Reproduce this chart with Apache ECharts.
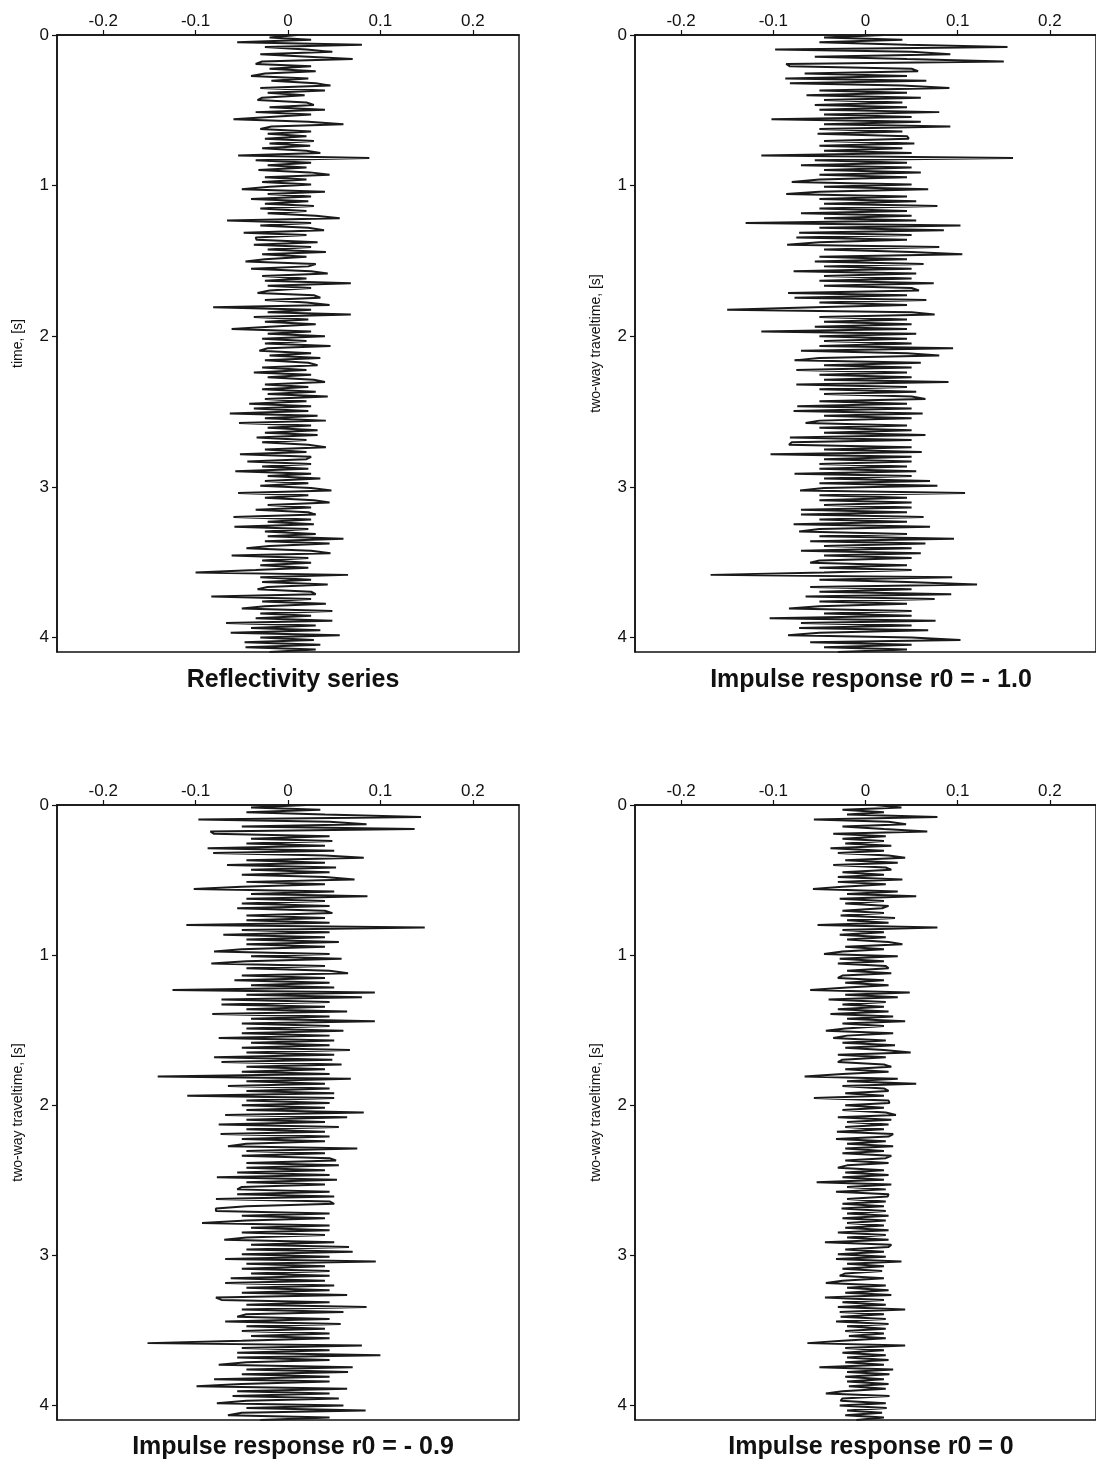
<!DOCTYPE html>
<html>
<head>
<meta charset="utf-8">
<script src="https://cdn.jsdelivr.net/npm/echarts@6/dist/echarts.min.js"></script>
<style>
  html, body { margin: 0; padding: 0; background: #fff; }
  #chart { width: 1096px; height: 1464px; }
</style>
</head>
<body>
<div id="chart"></div>
<script>
// sample spacing of the traces, seconds (read at 16 ms steps, 0 .. 4.096 s)
const dt = 0.016

const xTicks = [-0.2, -0.1, 0, 0.1, 0.2]
const yTicks = [0, 1, 2, 3, 4]

const titles = [
  'Reflectivity series',
  'Impulse response r0 = - 1.0',
  'Impulse response r0 = - 0.9',
  'Impulse response r0 = 0'
]
const yNames = ['time, [s]', 'two-way traveltime, [s]', 'two-way traveltime, [s]', 'two-way traveltime, [s]']

const reflectivity = [
  0.01, -0.02, 0.025, -0.055, 0.08, -0.025, 0.02, 0.048, -0.03, 0.022, 0.07, -0.028, -0.035, 0.025, -0.02, 0.03,
  -0.025, -0.04, 0.022, -0.018, 0.03, 0.046, -0.03, 0.04, -0.022, 0.018, -0.028, -0.033, 0.02, 0.028, -0.02, 0.04,
  -0.035, 0.025, -0.02, -0.059, 0.022, 0.06, -0.018, -0.03, 0.025, -0.022, 0.02, -0.025, 0.028, -0.02, 0.024, -0.028,
  0.02, 0.035, -0.054, 0.088, -0.035, 0.025, -0.022, 0.02, -0.032, 0.024, 0.045, -0.025, 0.02, -0.028, 0.025, -0.02,
  -0.05, 0.04, -0.022, 0.025, -0.04, 0.022, -0.025, 0.028, -0.03, 0.02, -0.022, 0.03, 0.056, -0.066, 0.025, -0.03,
  0.022, 0.039, -0.048, 0.02, -0.035, -0.034, 0.032, -0.037, 0.025, -0.022, 0.041, -0.028, 0.02, -0.025, -0.046, 0.03,
  0.022, -0.04, 0.025, 0.043, -0.028, 0.02, -0.025, 0.068, -0.022, 0.025, -0.02, -0.033, 0.028, 0.035, -0.025, 0.02,
  0.045, -0.081, 0.025, -0.022, 0.068, -0.037, 0.022, -0.025, 0.03, -0.02, -0.061, 0.025, -0.022, 0.04, -0.028, 0.02,
  -0.025, 0.046, -0.022, -0.031, 0.025, -0.02, 0.035, -0.025, 0.022, 0.032, -0.028, 0.02, -0.037, 0.025, -0.022, 0.028,
  0.04, -0.025, 0.022, -0.028, 0.03, -0.022, 0.043, -0.025, 0.02, -0.042, 0.025, -0.037, 0.022, -0.063, 0.032, -0.025,
  0.041, -0.053, 0.025, -0.022, 0.032, -0.025, 0.032, -0.034, 0.02, -0.028, 0.022, 0.041, -0.025, 0.02, -0.052, 0.025,
  0.02, -0.044, 0.025, -0.028, 0.022, -0.057, 0.025, -0.022, 0.035, -0.025, 0.022, -0.03, 0.025, 0.047, -0.054, 0.022,
  -0.025, 0.028, 0.045, -0.022, 0.025, -0.035, 0.022, 0.03, -0.059, 0.025, -0.022, 0.028, -0.058, 0.022, -0.025, 0.03,
  -0.022, 0.06, -0.025, 0.045, -0.02, -0.045, 0.025, 0.046, -0.061, 0.022, -0.028, 0.025, -0.03, 0.022, -0.035, -0.1,
  0.065, -0.03, 0.025, -0.028, 0.043, -0.022, -0.033, 0.025, 0.03, -0.083, 0.025, -0.028, 0.041, -0.025, -0.05, 0.048,
  -0.03, 0.025, -0.035, 0.048, -0.067, 0.03, -0.04, 0.035, -0.062, 0.056, -0.03, 0.028, -0.047, 0.035, -0.046, 0.03,
  -0.02
]

const responseR10 = [
  0.02, -0.045, 0.04, -0.05, 0.045, 0.154, -0.098, 0.05, 0.092, -0.055, 0.045, 0.15, -0.086, -0.082, 0.05, 0.057,
  -0.066, 0.045, -0.087, 0.066, -0.082, 0.04, 0.091, -0.05, 0.045, -0.064, 0.06, -0.045, 0.04, -0.055, 0.045, -0.05,
  0.08, -0.045, 0.05, -0.102, 0.06, -0.045, 0.092, -0.05, 0.04, -0.052, 0.045, 0.047, -0.045, 0.053, -0.05, 0.04,
  -0.045, 0.05, -0.113, 0.16, -0.055, 0.045, -0.07, 0.05, -0.045, 0.06, -0.05, 0.045, -0.05, -0.08, 0.05, -0.045,
  0.068, -0.05, -0.086, 0.045, -0.05, 0.055, -0.045, 0.078, -0.05, 0.045, -0.07, 0.05, -0.045, 0.055, -0.13, 0.103,
  -0.05, 0.085, -0.072, 0.05, -0.075, 0.045, -0.05, -0.085, 0.08, -0.045, 0.05, 0.105, -0.05, 0.045, -0.055, 0.063,
  -0.045, 0.05, -0.078, 0.055, -0.045, 0.05, -0.05, 0.074, -0.045, 0.05, 0.058, -0.084, 0.045, -0.077, 0.066, -0.05,
  0.045, -0.055, -0.15, 0.05, 0.075, -0.05, 0.045, -0.045, 0.05, -0.055, 0.045, -0.113, 0.055, -0.05, 0.045, -0.045,
  0.05, -0.05, 0.095, -0.07, 0.045, 0.08, -0.05, -0.077, 0.06, -0.045, 0.05, -0.075, 0.045, -0.05, 0.05, -0.045,
  0.09, -0.075, 0.045, -0.05, 0.055, -0.045, 0.05, 0.065, -0.05, 0.045, -0.074, 0.05, -0.078, 0.062, -0.045, 0.05,
  -0.05, -0.065, 0.045, -0.05, 0.05, -0.045, 0.065, -0.082, 0.05, -0.08, -0.083, 0.05, -0.045, 0.061, -0.103, 0.05,
  -0.045, 0.05, -0.05, 0.045, -0.05, 0.055, -0.077, 0.05, -0.045, 0.07, -0.05, 0.078, -0.045, -0.071, 0.108, -0.05,
  0.045, -0.05, 0.05, -0.045, 0.05, -0.07, 0.045, -0.07, 0.063, -0.05, 0.045, -0.078, 0.07, -0.05, -0.072, 0.045,
  -0.05, 0.096, -0.06, 0.065, -0.045, 0.05, -0.07, 0.06, -0.045, 0.05, -0.05, -0.06, 0.045, -0.05, 0.05, -0.045,
  -0.168, 0.094, -0.05, 0.045, 0.121, -0.06, 0.05, -0.05, 0.093, -0.065, 0.075, -0.05, 0.045, -0.05, -0.083, 0.05,
  -0.045, 0.05, -0.104, 0.076, -0.07, 0.05, -0.072, 0.068, -0.05, -0.084, 0.05, 0.103, -0.06, 0.05, -0.045, 0.045,
  -0.03
]

const responseR09 = [
  0.02, -0.04, 0.035, -0.045, 0.04, 0.144, -0.097, 0.045, 0.085, -0.05, 0.137, -0.084, -0.08, 0.045, -0.04, 0.048,
  -0.045, 0.04, -0.087, 0.05, -0.081, 0.04, 0.082, -0.045, 0.04, -0.066, 0.052, -0.04, 0.045, -0.05, 0.04, 0.072,
  -0.045, 0.04, -0.05, -0.102, 0.05, -0.04, 0.086, -0.045, 0.04, -0.05, 0.045, -0.055, 0.04, 0.048, -0.045, 0.04,
  -0.045, 0.045, -0.11, 0.148, -0.05, 0.045, -0.07, 0.04, -0.045, 0.055, -0.045, 0.04, -0.05, -0.08, 0.045, -0.04,
  0.058, -0.045, -0.083, 0.04, -0.045, 0.045, 0.065, -0.05, 0.04, -0.058, 0.045, -0.04, 0.05, -0.125, 0.094, -0.045,
  0.08, -0.072, 0.045, -0.072, 0.04, -0.045, 0.064, -0.082, 0.045, -0.04, 0.094, -0.05, 0.045, -0.045, 0.06, -0.05,
  0.045, -0.075, 0.05, -0.04, 0.045, -0.05, 0.067, -0.045, 0.05, -0.08, 0.048, -0.072, 0.058, -0.045, 0.04, -0.05,
  0.045, -0.141, 0.068, -0.045, 0.04, -0.065, 0.045, -0.045, 0.05, -0.109, 0.05, -0.045, 0.045, -0.05, 0.04, -0.045,
  0.082, -0.068, 0.064, -0.045, 0.04, -0.075, 0.055, -0.045, 0.04, -0.073, 0.045, -0.05, 0.04, -0.045, -0.065, 0.075,
  -0.045, 0.04, -0.05, 0.045, 0.052, -0.045, 0.055, -0.045, 0.04, -0.055, 0.045, -0.077, 0.053, -0.045, 0.04, -0.05,
  -0.055, 0.045, -0.055, 0.05, -0.078, 0.045, 0.05, -0.045, -0.078, -0.078, 0.045, -0.05, 0.04, -0.045, -0.093, 0.045,
  -0.04, 0.045, -0.05, 0.04, -0.045, -0.069, 0.05, -0.04, 0.066, -0.045, 0.07, -0.05, 0.045, -0.068, 0.095, -0.045,
  0.04, -0.05, 0.045, -0.04, 0.045, -0.062, 0.04, -0.068, 0.05, -0.045, 0.045, -0.05, 0.064, -0.078, -0.072, 0.045,
  -0.045, 0.085, -0.05, 0.06, -0.045, -0.055, 0.045, -0.068, 0.057, -0.045, 0.04, -0.05, 0.045, -0.04, 0.045, -0.05,
  -0.152, 0.08, -0.05, 0.045, -0.055, 0.1, -0.055, 0.045, -0.045, -0.075, 0.07, -0.045, 0.065, -0.05, 0.045, -0.08,
  0.045, -0.05, -0.099, 0.064, -0.055, 0.045, -0.06, 0.055, -0.045, -0.077, 0.06, -0.045, 0.084, -0.05, -0.065, 0.045,
  -0.03
]

const responseR00 = [
  0.01, 0.039, -0.025, 0.02, -0.02, 0.078, -0.056, 0.025, 0.044, -0.025, 0.02, 0.067, -0.035, 0.022, -0.025, 0.02,
  -0.022, 0.028, -0.038, 0.02, -0.03, 0.025, 0.043, -0.022, 0.035, -0.035, 0.022, 0.028, -0.025, 0.02, -0.03, 0.04,
  -0.03, 0.022, -0.025, -0.057, 0.035, -0.02, 0.055, -0.028, 0.02, -0.022, 0.025, 0.018, -0.025, 0.02, -0.027, 0.032,
  -0.02, 0.025, -0.052, 0.078, -0.025, 0.02, -0.028, 0.022, -0.02, 0.025, 0.04, -0.022, 0.02, -0.025, -0.045, 0.035,
  -0.028, 0.02, -0.03, 0.022, 0.025, -0.02, 0.028, -0.025, -0.03, 0.02, -0.022, 0.025, -0.02, -0.06, 0.048, -0.022,
  0.035, -0.04, 0.022, -0.025, 0.02, -0.03, 0.025, -0.038, 0.03, -0.02, 0.043, -0.025, 0.02, -0.022, -0.043, 0.03,
  -0.02, -0.035, 0.022, -0.025, 0.032, -0.022, 0.02, 0.049, -0.03, 0.022, -0.025, -0.03, 0.02, 0.028, -0.022, 0.025,
  -0.025, -0.066, 0.035, -0.02, 0.055, -0.025, 0.02, 0.025, -0.022, 0.02, -0.056, 0.025, 0.026, -0.022, 0.02, -0.025,
  0.022, 0.033, -0.03, 0.028, -0.02, 0.025, -0.022, 0.02, -0.031, 0.03, 0.025, -0.032, 0.022, -0.02, 0.03, -0.022,
  0.02, -0.025, 0.028, 0.022, -0.022, 0.025, -0.02, -0.03, 0.02, -0.022, 0.025, -0.025, 0.02, -0.053, 0.028, -0.02,
  0.022, -0.032, 0.025, 0.024, -0.02, 0.022, -0.025, 0.02, -0.026, 0.022, -0.02, 0.025, -0.025, 0.022, -0.02, 0.02,
  -0.022, 0.025, -0.03, 0.022, -0.02, 0.025, -0.044, 0.028, 0.025, -0.022, 0.02, -0.03, 0.022, -0.032, 0.039, -0.02,
  0.02, -0.025, 0.018, -0.022, -0.028, 0.02, -0.025, -0.043, 0.022, -0.02, 0.025, -0.022, 0.028, -0.044, 0.02, -0.025,
  0.022, -0.03, 0.043, -0.028, 0.02, -0.027, 0.022, -0.032, 0.025, -0.02, 0.022, -0.022, 0.02, -0.018, 0.022, -0.025,
  -0.063, 0.043, -0.022, 0.02, -0.025, 0.022, -0.02, 0.025, -0.022, 0.02, -0.05, 0.03, -0.02, 0.026, -0.022, 0.02,
  -0.02, 0.025, -0.018, 0.022, -0.025, -0.043, 0.026, -0.025, -0.027, 0.022, -0.028, 0.023, -0.02, 0.018, -0.022, 0.02,
  -0.01
]

const traces = [reflectivity, responseR10, responseR09, responseR00]

// plot boxes in pixels
const grids = [
  { left: 57, top: 35, width: 462, height: 617 },
  { left: 635, top: 35, width: 464, height: 617 },
  { left: 57, top: 805, width: 462, height: 615 },
  { left: 635, top: 805, width: 464, height: 615 }
]

const font = 'Liberation Sans'

const chart = echarts.init(document.getElementById('chart'))

const option = {
  backgroundColor: '#fff',
  animation: false,
  title: titles.map((text, i) => ({
    text,
    left: grids[i].left + 231,
    top: i < 2 ? 663 : 1430,
    textAlign: 'center',
    textStyle: { fontFamily: font, fontSize: 25, fontWeight: 'bold', color: '#111' }
  })),
  grid: grids.map(g => ({
    ...g,
    show: true,
    borderColor: '#111',
    borderWidth: 1.5,
    backgroundColor: 'transparent'
  })),
  xAxis: grids.map((g, i) => ({
    type: 'value',
    gridIndex: i,
    position: 'top',
    min: -0.25,
    max: 0.25,
    splitLine: { show: false },
    axisLine: { show: true, onZero: false, lineStyle: { color: '#111', width: 1.5 } },
    axisTick: { show: true, inside: false, length: 5, customValues: xTicks, lineStyle: { color: '#111', width: 1.2 } },
    axisLabel: {
      customValues: xTicks,
      margin: 5,
      fontFamily: font,
      fontSize: 17,
      color: '#111',
      formatter: v => String(Math.round(v * 10) / 10)
    }
  })),
  yAxis: grids.map((g, i) => ({
    type: 'value',
    gridIndex: i,
    position: 'left',
    inverse: true,
    min: 0,
    max: 4.096,
    name: yNames[i],
    nameLocation: 'middle',
    nameGap: 32,
    nameTextStyle: { fontFamily: font, fontSize: 14, color: '#111' },
    splitLine: { show: false },
    axisLine: { show: true, onZero: false, lineStyle: { color: '#111', width: 1.5 } },
    axisTick: { show: true, inside: false, length: 5, customValues: yTicks, lineStyle: { color: '#111', width: 1.2 } },
    axisLabel: { customValues: yTicks, margin: 8, fontFamily: font, fontSize: 17, color: '#111' }
  })),
  series: traces.map((trace, i) => ({
    type: 'line',
    xAxisIndex: i,
    yAxisIndex: i,
    showSymbol: false,
    symbol: 'none',
    clip: true,
    lineStyle: { color: '#1a1a1a', width: 2 },
    data: trace.map((v, k) => [v, +(k * dt).toFixed(3)])
  }))
}

chart.setOption(option)
window.addEventListener('resize', chart.resize)
</script>
</body>
</html>
